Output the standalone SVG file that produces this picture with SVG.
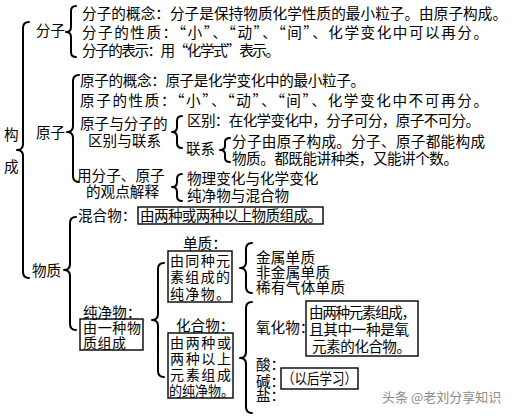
<svg xmlns="http://www.w3.org/2000/svg" width="513" height="417" viewBox="0 0 513 417">
<style>
text{font-family:"Noto Sans CJK SC","Noto Sans CJK TC",sans-serif;font-size:14.6px;fill:#000}
.sm{font-size:14px}
.brace{fill:none;stroke:#000;stroke-width:2;stroke-linecap:round;stroke-linejoin:round}
.box{fill:none;stroke:#000;stroke-width:1.4}
.wm{font-size:13px;fill:#8c8c8c}
</style>
<rect width="513" height="417" fill="#fff"/>
<g id="connectors">
<path class="brace" d="M29,22 Q23,22 23,28 L23,144 Q23,150 17,150 Q23,150 23,156 L23,272 Q23,278 29,278"/>
<path class="brace" d="M76,6 Q71,6 71,11 L71,27 Q71,32 66,32 Q71,32 71,37 L71,52 Q71,57 76,57"/>
<path class="brace" d="M79,75 Q73,75 73,81 L73,126 Q73,132 67,132 Q73,132 73,138 L73,176 Q73,182 79,182"/>
<path class="brace" d="M182,116 Q177,116 177,121 L177,127 Q177,132 172,132 Q177,132 177,137 L177,143 Q177,148 182,148"/>
<path class="brace" d="M230,138 Q225,138 225,142 L225,146 Q225,150 220,150 Q225,150 225,154 L225,158 Q225,162 230,162"/>
<path class="brace" d="M182,174 Q177,174 177,179 L177,182 Q177,187 172,187 Q177,187 177,192 L177,196 Q177,201 182,201"/>
<path class="brace" d="M76,217 Q70,217 70,223 L70,264 Q70,270 64,270 Q70,270 70,276 L70,324 Q70,330 76,330"/>
<path class="brace" d="M164,263 Q158,263 158,269 L158,314 Q158,320 152,320 Q158,320 158,326 L158,371 Q158,377 164,377"/>
<path class="brace" d="M252,243 Q246,243 246,249 L246,262 Q246,268 240,268 Q246,268 246,274 L246,287 Q246,293 252,293"/>
<path class="brace" d="M252,302 Q246,302 246,308 L246,352 Q246,358 240,358 Q246,358 246,364 L246,407 Q246,413 252,413"/>
</g>
<g id="root"><text x="4" y="140">构</text><text x="4" y="172">成</text></g>
<g id="molecule"><text x="36" y="35.5">分子</text></g>
<g id="molecule-items">
<text x="82" y="18.5" textLength="425">分子的概念：分子是保持物质化学性质的最小粒子。由原子构成。</text>
<text x="82" y="37.5" textLength="406">分子的性质：“小”、“动”、“间”、化学变化中可以再分。</text>
<text x="82" y="55.5" textLength="198">分子的表示：用“化学式”表示。</text>
</g>
<g id="atom"><text x="36" y="137.5">原子</text></g>
<g id="atom-items">
<text x="80" y="85.5" textLength="285">原子的概念：原子是化学变化中的最小粒子。</text>
<text x="80" y="105.5" textLength="408">原子的性质：“小”、“动”、“间”、化学变化中不可再分。</text>
<text x="80" y="128.5">原子与分子的</text>
<text x="88" y="145.5">区别与联系</text>
<text x="77" y="180.5">用分子、原子</text>
<text x="86" y="197">的观点解释</text>
</g>
<g id="difference"><text x="187" y="125.5" textLength="293">区别：在化学变化中，分子可分，原子不可分。</text></g>
<g id="relation"><text x="186" y="153.5">联系</text>
<text x="232" y="146.5" textLength="253">分子由原子构成。分子、原子都能构成</text>
<text x="232" y="163.5" textLength="226">物质。都既能讲种类，又能讲个数。</text></g>
<g id="explain"><text x="187" y="183.5">物理变化与化学变化</text><text x="187" y="200.5">纯净物与混合物</text></g>
<g id="matter"><text x="32" y="275.5">物质</text></g>
<g id="mixture"><text x="78" y="220.5">混合物：</text>
<rect class="box" x="138" y="207" width="185" height="17"/>
<text x="140" y="220.5" textLength="182">由两种或两种以上物质组成。</text></g>
<g id="pure"><text x="83" y="317.5">纯净物：</text>
<rect class="box" x="80" y="319" width="63" height="31"/>
<text class="sm" x="83" y="332.5" textLength="58">由一种物</text><text class="sm" x="83" y="347.5" textLength="43">质组成</text></g>
<g id="element"><text x="183" y="248.5">单质：</text>
<rect class="box" x="168" y="251" width="64" height="51"/>
<text class="sm" x="170" y="265.5" textLength="60">由同种元</text><text class="sm" x="170" y="282" textLength="60">素组成的</text><text class="sm" x="170" y="298.5" textLength="60">纯净物。</text></g>
<g id="compound"><text x="176" y="330.5">化合物：</text>
<rect class="box" x="168" y="333" width="65" height="65"/>
<text class="sm" x="170" y="347.5" textLength="61">由两种或</text><text class="sm" x="170" y="363.5" textLength="61">两种以上</text><text class="sm" x="170" y="380" textLength="61">元素组成</text><text class="sm" x="169" y="396" textLength="65" lengthAdjust="spacingAndGlyphs">的纯净物。</text></g>
<g id="element-kinds"><text x="256" y="262.5" textLength="59">金属单质</text><text x="256" y="277.5" textLength="74">非金属单质</text><text x="256" y="292.5" textLength="89">稀有气体单质</text></g>
<g id="oxide"><text x="256" y="332.5">氧化物：</text>
<rect class="box" x="306" y="301" width="112" height="55"/>
<text x="309" y="317.5" textLength="107">由两种元素组成，</text>
<text x="309" y="335" textLength="100">且其中一种是氧</text>
<text x="312" y="352" textLength="99">元素的化合物。</text></g>
<g id="acid-base-salt"><text x="256" y="370">酸：</text><text x="256" y="387">碱：</text><text x="256" y="401">盐：</text>
<rect class="box" x="281" y="368" width="77" height="21"/>
<text x="282" y="384" font-size="13" textLength="75" lengthAdjust="spacingAndGlyphs">（以后学习）</text></g>
<text class="wm" x="382" y="402">头条 @老刘分享知识</text>
</svg>
